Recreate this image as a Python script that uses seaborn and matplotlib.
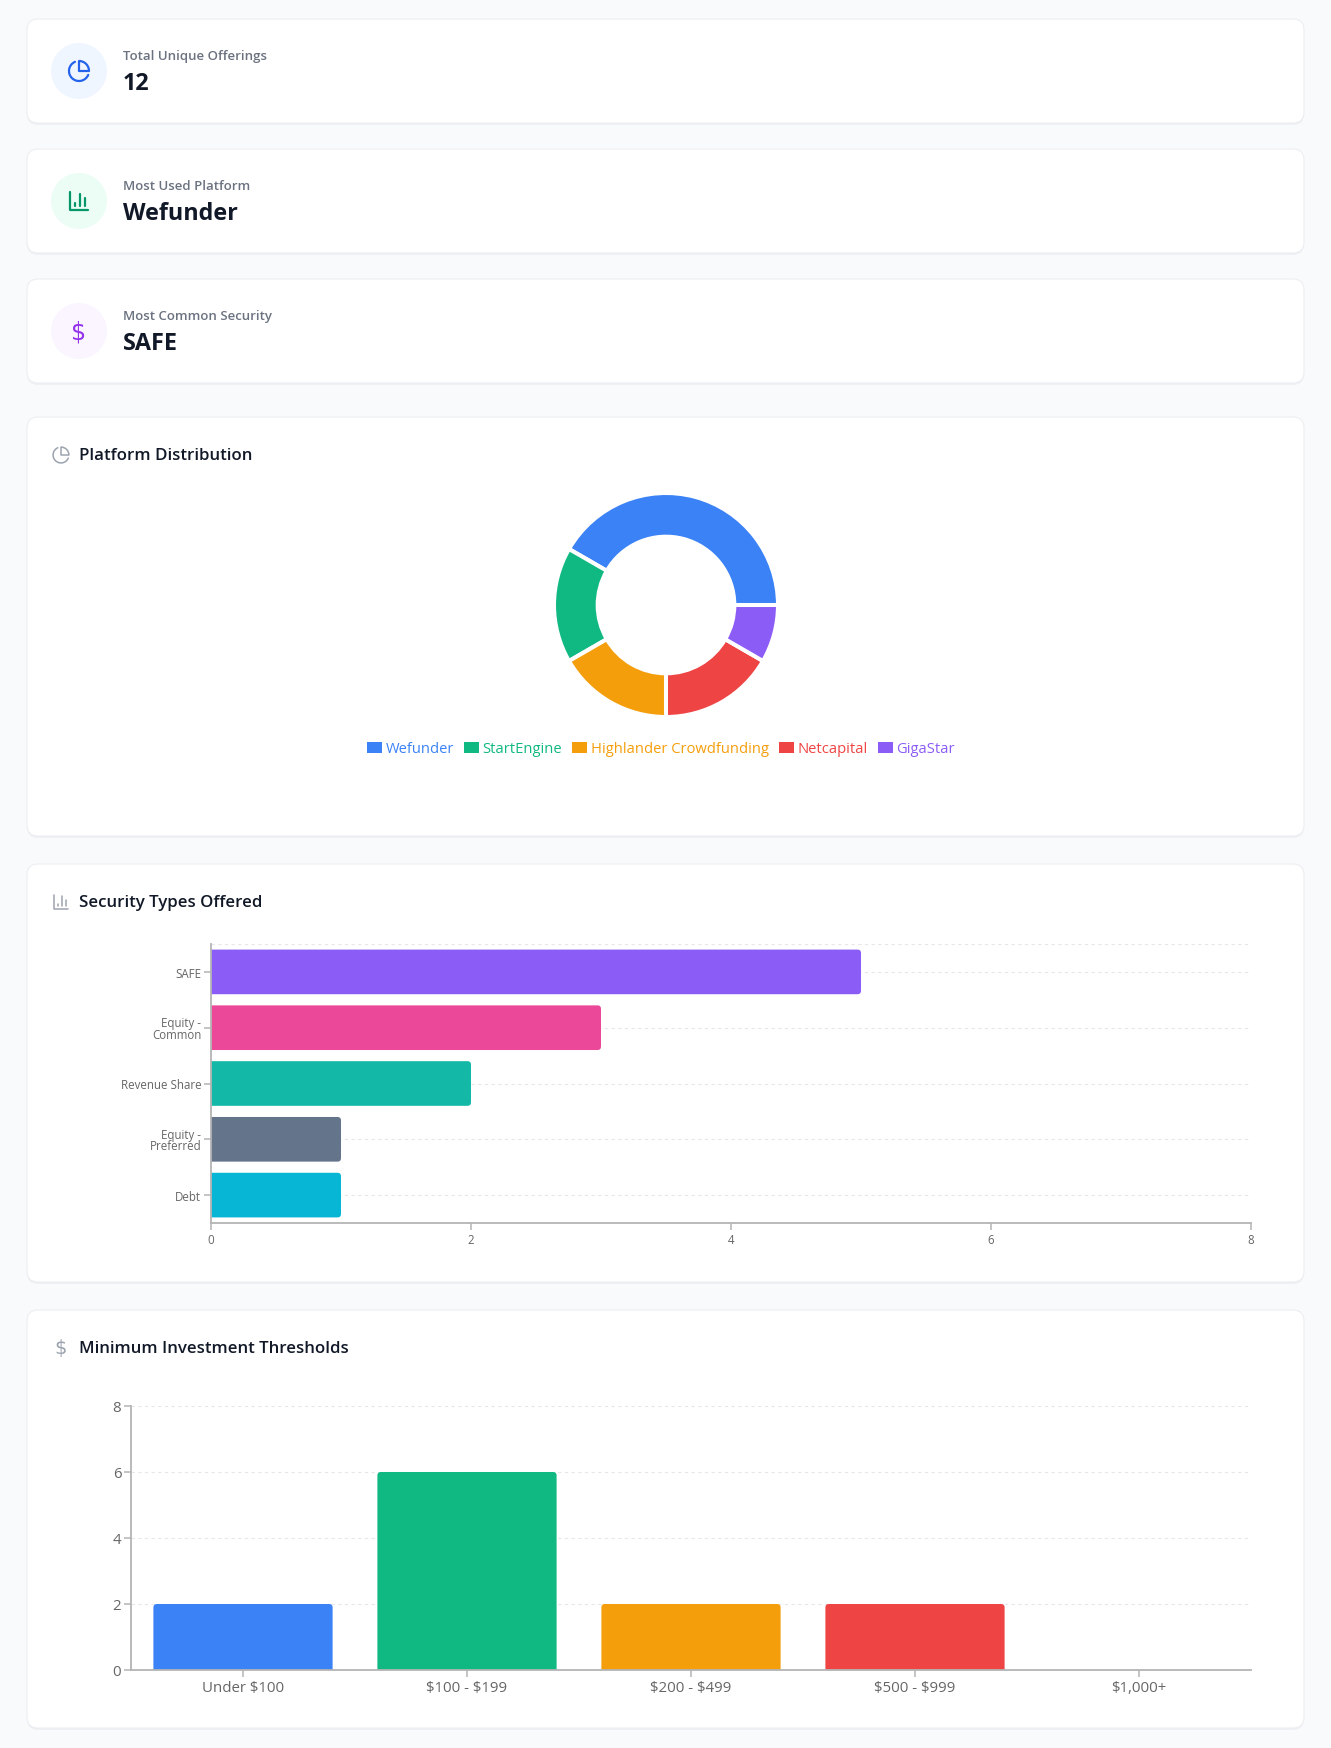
import matplotlib
matplotlib.use('Agg')
import matplotlib.pyplot as plt
import seaborn as sns
import pandas as pd
from matplotlib.patches import FancyBboxPatch, Circle, Arc, Wedge, Patch
from matplotlib.lines import Line2D

# ---------------- data ----------------
summary_labels = ['Total Unique Offerings', 'Most Used Platform', 'Most Common Security']
summary_values = ['12', 'Wefunder', 'SAFE']

platforms = ['Wefunder', 'StartEngine', 'Highlander Crowdfunding', 'Netcapital', 'GigaStar']
platform_counts = [5, 2, 2, 2, 1]
platform_colors = ['#3b82f6', '#10b981', '#f59e0b', '#ef4444', '#8b5cf6']

security_types = ['SAFE', 'Equity - Common', 'Revenue Share', 'Equity - Preferred', 'Debt']
security_tick_labels = ['SAFE', 'Equity -\nCommon', 'Revenue Share', 'Equity -\nPreferred', 'Debt']
security_counts = [5, 3, 2, 1, 1]
security_colors = ['#8b5cf6', '#ec4899', '#14b8a6', '#64748b', '#06b6d4']
security_xticks = [0, 2, 4, 6, 8]

thresholds = ['Under $100', '$100 - $199', '$200 - $499', '$500 - $999', '$1,000+']
threshold_counts = [2, 6, 2, 2, 0]
threshold_colors = ['#3b82f6', '#10b981', '#f59e0b', '#ef4444', '#8b5cf6']
threshold_yticks = [0, 2, 4, 6, 8]

# ---------------- setup ----------------
W, H = 1331, 1749
sns.set_theme(style='white')
plt.rcParams['font.family'] = ['Open Sans', 'DejaVu Sans']
plt.rcParams['text.parse_math'] = False

fig = plt.figure(figsize=(W / 100, H / 100), dpi=100)
fig.patch.set_facecolor('#f9fafb')
T = fig.dpi_scale_trans

AXIS_GRAY = '#b4b4b4'
TICK_TXT = '#666666'
GRID = '#e5e7eb'


def P(x, y):
    return (x / 100, (H - y) / 100)


def card(x0, y0, x1, y1):
    sh = FancyBboxPatch((x0 / 100, (H - y1 - 2) / 100), (x1 - x0) / 100, (y1 - y0) / 100,
                        boxstyle='round,pad=0,rounding_size=0.11', transform=T,
                        fc='#eef0f4', ec='none', zorder=-6)
    fig.add_artist(sh)
    c = FancyBboxPatch((x0 / 100, (H - y1) / 100), (x1 - x0) / 100, (y1 - y0) / 100,
                       boxstyle='round,pad=0,rounding_size=0.11', transform=T,
                       fc='white', ec='#eceef2', lw=0.8, zorder=-5)
    fig.add_artist(c)


def pie_icon(cx, cy, size, color, lw):
    u = size / 24.0
    r = 10 * u
    fig.add_artist(Arc(P(cx, cy), 2 * r / 100, 2 * r / 100, theta1=113.6, theta2=337,
                       transform=T, color=color, lw=lw, zorder=2, capstyle='round'))
    fig.add_artist(Wedge(P(cx, cy), r / 100, 0, 90, transform=T, fill=False,
                         ec=color, lw=lw, zorder=2, joinstyle='round'))


def bar_icon(cx, cy, size, color, lw):
    u = size / 24.0

    def m(a, b):
        return P(cx + (a - 12) * u, cy + (b - 12) * u)
    paths = [[(3, 3), (3, 21), (21, 21)], [(18, 17), (18, 9)], [(13, 17), (13, 5)], [(8, 17), (8, 14)]]
    for p in paths:
        pts = [m(a, b) for a, b in p]
        fig.add_artist(Line2D([q[0] for q in pts], [q[1] for q in pts], transform=T,
                              color=color, lw=lw, solid_capstyle='round',
                              solid_joinstyle='round', zorder=2))


def round_bars(ax, horizontal, r_px=3.5):
    """Give the seaborn bars slightly rounded free ends (base end hidden by clipping)."""
    xl, yl = ax.get_xlim(), ax.get_ylim()
    ux = abs(xl[1] - xl[0]) / ax.bbox.width
    uy = abs(yl[1] - yl[0]) / ax.bbox.height
    for p in list(ax.patches):
        x, y, w, h = p.get_x(), p.get_y(), p.get_width(), p.get_height()
        fc, z = p.get_facecolor(), p.get_zorder()
        p.remove()
        if w == 0 or h == 0:
            continue
        if horizontal:
            x -= r_px * ux
            w += r_px * ux
        else:
            y -= r_px * uy
            h += r_px * uy
        ax.add_patch(FancyBboxPatch((x, y), w, h,
                                    boxstyle=f'round,pad=0,rounding_size={r_px * ux}',
                                    mutation_aspect=uy / ux, fc=fc, ec='none', zorder=z))


# ---------------- summary cards ----------------
card_x0, card_x1 = 27, 1304
icon_bg = ['#eff6ff', '#ecfdf5', '#faf5ff']
icon_fg = ['#2563eb', '#059669', '#9333ea']
for i, (lab, val) in enumerate(zip(summary_labels, summary_values)):
    off = i * 130
    card(card_x0, 20 + off, card_x1, 124 + off)
    cy = 72 + off
    fig.add_artist(Circle(P(79, cy), 28 / 100, transform=T, fc=icon_bg[i], ec='none', zorder=1))
    if i == 0:
        pie_icon(79, cy, 24, icon_fg[i], 1.6)
    elif i == 1:
        bar_icon(79, cy, 24, icon_fg[i], 1.6)
    else:
        fig.text(*P(79, cy + 1), '$', transform=T, ha='center', va='center',
                 fontsize=17, color=icon_fg[i], family='DejaVu Sans', zorder=3)
    fig.text(*P(123, 57 + off), lab, transform=T, ha='left', va='center',
             fontsize=9.5, weight='semibold', color='#6b7280')
    fig.text(*P(123, 84 + off), val, transform=T, ha='left', va='center',
             fontsize=16.8, weight='bold', color='#111827')

# ---------------- section cards ----------------
card(card_x0, 418, card_x1, 837)
card(card_x0, 865, card_x1, 1283)
card(card_x0, 1311, card_x1, 1729)

TITLE_KW = dict(transform=T, ha='left', va='center', fontsize=12.2, weight='semibold', color='#111827')
pie_icon(61, 456, 19, '#9ca3af', 1.1)
fig.text(*P(79, 456), 'Platform Distribution', **TITLE_KW)
bar_icon(61, 903, 19, '#9ca3af', 1.1)
fig.text(*P(79, 903), 'Security Types Offered', **TITLE_KW)
fig.text(*P(61, 1349), '$', transform=T, ha='center', va='center',
         fontsize=14, color='#9ca3af', family='DejaVu Sans')
fig.text(*P(79, 1349), 'Minimum Investment Thresholds', **TITLE_KW)

# ---------------- donut ----------------
cx, cy, half = 666, 606, 120
axp = fig.add_axes([(cx - half) / W, 1 - (cy + half) / H, 2 * half / W, 2 * half / H])
axp.pie(platform_counts, colors=platform_colors, startangle=0, counterclock=True,
        radius=1.0, wedgeprops=dict(width=0.39, edgecolor='white', linewidth=2.9))
lim = half / 112.0
axp.set_xlim(-lim, lim)
axp.set_ylim(-lim, lim)
axp.set_aspect('equal')
axp.axis('off')
handles = [Patch(fc=c, ec='none') for c in platform_colors]
leg = axp.legend(handles, platforms, loc='center', bbox_to_anchor=(661 / W, 1 - 750 / H),
                 bbox_transform=fig.transFigure, ncol=5, frameon=False, fontsize=10.6,
                 handlelength=1.0, handleheight=0.8, handletextpad=0.25, columnspacing=0.7,
                 borderaxespad=0)
for t, c in zip(leg.get_texts(), platform_colors):
    t.set_color(c)


def style_axes(ax, labelsize):
    ax.set_facecolor('none')
    for s in ['top', 'right']:
        ax.spines[s].set_visible(False)
    for s in ['left', 'bottom']:
        ax.spines[s].set_visible(True)
        ax.spines[s].set_color(AXIS_GRAY)
        ax.spines[s].set_linewidth(1.3)
        ax.spines[s].set_zorder(3)
    ax.tick_params(axis='both', which='major', bottom=True, left=True, length=5, width=1.1,
                   color=AXIS_GRAY, labelsize=labelsize, labelcolor=TICK_TXT, pad=2)
    ax.set_xlabel('')
    ax.set_ylabel('')
    ax.set_axisbelow(True)


# ---------------- security types (horizontal bars) ----------------
ax2 = fig.add_axes([211 / W, 1 - 1224 / H, (1251 - 211) / W, (1224 - 945) / H])
df_sec = pd.DataFrame({'type': security_types, 'count': security_counts})
sns.barplot(data=df_sec, x='count', y='type', hue='type', palette=security_colors,
            legend=False, orient='h', width=0.8, saturation=1, ax=ax2, edgecolor='none')
ax2.set_xlim(0, 8)
ax2.set_ylim(4.5, -0.5)
ax2.set_xticks(security_xticks)
ax2.set_yticks(range(len(security_types)))
ax2.set_yticklabels(security_tick_labels, linespacing=0.85)
style_axes(ax2, 8.3)
ax2.yaxis.grid(True, linestyle=(0, (3, 3)), color=GRID, lw=0.8)
ax2.xaxis.grid(False)
ax2.axhline(-0.5, linestyle=(0, (3, 3)), color=GRID, lw=0.8, zorder=0)
round_bars(ax2, horizontal=True)

# ---------------- minimum investment (vertical bars) ----------------
ax3 = fig.add_axes([131 / W, 1 - 1671 / H, (1251 - 131) / W, (1671 - 1407) / H])
df_thr = pd.DataFrame({'range': thresholds, 'count': threshold_counts})
sns.barplot(data=df_thr, x='range', y='count', hue='range', palette=threshold_colors,
            legend=False, width=0.8, saturation=1, ax=ax3, edgecolor='none')
ax3.set_ylim(0, 8)
ax3.set_xlim(-0.5, len(thresholds) - 0.5)
ax3.set_yticks(threshold_yticks)
style_axes(ax3, 10.8)
ax3.yaxis.grid(True, linestyle=(0, (3, 3)), color=GRID, lw=0.8)
ax3.xaxis.grid(False)
round_bars(ax3, horizontal=False)

fig.savefig('out.png', dpi=100, facecolor=fig.get_facecolor())
